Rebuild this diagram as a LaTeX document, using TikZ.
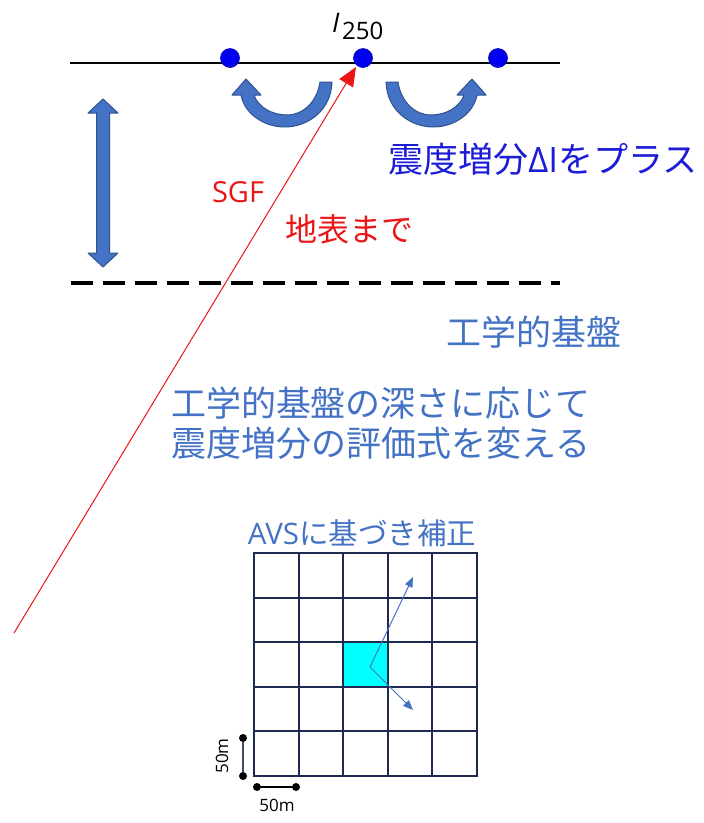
\documentclass[tikz,border=0pt]{standalone}
\usepackage{fontspec}
\setmainfont{Noto Sans CJK JP}
\newfontfamily\latin{Open Sans}
\usetikzlibrary{arrows.meta}
\definecolor{dotblue}{RGB}{0,0,240}
\definecolor{txtblue}{RGB}{28,28,215}
\definecolor{steel}{RGB}{68,114,196}
\definecolor{steeldark}{RGB}{47,82,143}
\definecolor{txtred}{RGB}{232,22,22}
\definecolor{gridnavy}{RGB}{30,42,82}
\definecolor{cellcyan}{RGB}{0,255,255}
\tikzset{
  dotnode/.style={circle,fill=dotblue,draw=dotblue!70!black,line width=0.6pt,minimum size=19pt,inner sep=0pt},
  blockarrow/.style={fill=steel,draw=steeldark,line width=1pt,line join=round},
  jtext/.style={inner sep=0pt,font=\fontsize{#1}{#1}\selectfont},
  scaledot/.style={circle,fill=black,minimum size=8pt,inner sep=0pt},
}
\newcommand\myuarrow{%
  \path[blockarrow] (332,82) .. controls (331,112) and (306,127) .. (285,127)
      .. controls (262,127) and (244,112) .. (241,95) -- (232,95) -- (246,79) -- (261,95) -- (254,95)
      .. controls (258,107) and (272,115) .. (287,115) .. controls (303,115) and (317,102) .. (320,82) -- cycle;}
\begin{document}
\begin{tikzpicture}[x=1pt,y=-1pt]
\useasboundingbox (0,0) rectangle (704,823);
% surface line
\coordinate (sl) at (70,63);
\coordinate (sr) at (560,63);
\draw[line width=2pt] (sl) -- (sr);
% dashed bedrock line
\coordinate (dl) at (71,283);
\coordinate (dr) at (560,283);
\draw[line width=3.5pt,dash pattern=on 22pt off 10pt] (dl) -- (dr);
% red SGF line
\coordinate (rs) at (14,633);
\coordinate (re) at (356,67);
\draw[txtred,line width=1pt,-{Triangle[length=19pt,width=16pt]}] (rs) -- (re);
% dots
\node[dotnode] (d1) at (230,58) {};
\node[dotnode] (d2) at (363,58) {};
\node[dotnode] (d3) at (498,58) {};
% I250
\node[inner sep=0pt,anchor=base west,font=\latin\fontsize{27}{27}\selectfont] (ilab) at (332,32) {\itshape I};
\node[inner sep=0pt,anchor=base west,font=\latin\fontsize{24}{24}\selectfont] (isub) at (342,39) {250};
% curved arrows
\myuarrow
\begin{scope}[shift={(718,0)},xscale=-1]
\myuarrow
\end{scope}
% double vertical arrow
\path[blockarrow] (103,99) -- (118,113) -- (109.5,113) -- (109.5,253) -- (118,253) -- (103,267)
  -- (88,253) -- (96.5,253) -- (96.5,113) -- (88,113) -- cycle;
% texts
\node[jtext=35,text=txtblue] (plus) at (543,159) {震度増分{\latin ΔI}をプラス};
\node[text=txtred,inner sep=0pt,font=\latin\fontsize{29}{29}\selectfont] (sgf) at (238,192) {SGF};
\node[jtext=32,text=txtred] (chihyo) at (349,229) {地表まで};
\node[jtext=35,text=steel] (kiban) at (534,332) {工学的基盤};
\node[jtext=35,text=steel,align=center] (hyoka) at (381,423) {工学的基盤の深さに応じて\\[5pt]震度増分の評価式を変える};
\node[jtext=29.5,text=steel] (avs) at (362,533) {{\latin AVS}に基づき補正};
% grid
\fill[cellcyan] (343.2,642.2) rectangle (387.8,686.8);
\foreach \i in {0,...,5} {
  \draw[gridnavy,line width=2pt,line cap=rect] ({254+44.6*\i},553) -- ({254+44.6*\i},776);
  \draw[gridnavy,line width=2pt,line cap=rect] (254,{553+44.6*\i}) -- (477,{553+44.6*\i});
}
% AVS arrows
\coordinate (ac) at (370,667);
\coordinate (at) at (413,577);
\coordinate (ab) at (413,710);
\draw[steel,line width=1pt,-{Triangle[length=10pt,width=8pt]}] (ac) -- (at);
\draw[steel,line width=1pt,-{Triangle[length=10pt,width=8pt]}] (ac) -- (ab);
% scale bars
\node[scaledot] (v1) at (243,738) {};
\node[scaledot] (v2) at (243,776) {};
\draw[gridnavy!60!gray,line width=1.3pt] (v1) -- (v2);
\node[scaledot] (h1) at (257,787) {};
\node[scaledot] (h2) at (296,787) {};
\draw[black,line width=1.3pt] (h1) -- (h2);
\node[inner sep=0pt,rotate=90,font=\latin\fontsize{17}{17}\selectfont] (vlab) at (222,756) {50m};
\node[inner sep=0pt,font=\latin\fontsize{17}{17}\selectfont] (hlab) at (277,805) {50m};
\end{tikzpicture}
\end{document}
